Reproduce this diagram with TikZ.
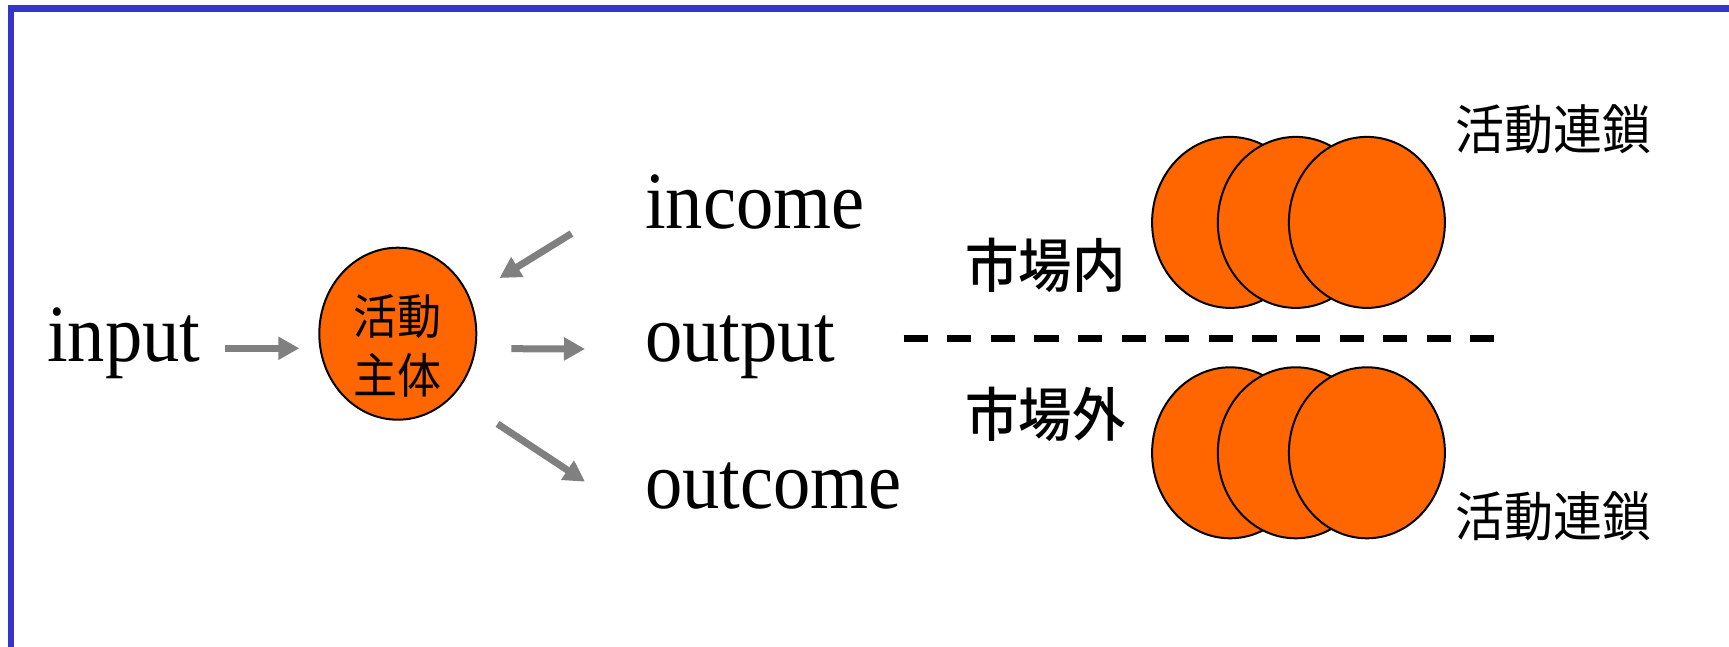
\documentclass[tikz,border=0pt]{standalone}
\usepackage{fontspec}
\setmainfont{Liberation Serif}
\newfontfamily\cjk{Noto Sans CJK JP}
\newfontfamily\cjkm{Noto Sans CJK JP Medium}
\usetikzlibrary{arrows.meta,shapes.geometric}
\definecolor{frameblue}{HTML}{3535CC}
\definecolor{orng}{HTML}{FF6600}
\definecolor{arrgray}{HTML}{808080}
\newcommand\vst[1]{\scalebox{1}[1.09]{#1}}
\begin{document}
\begin{tikzpicture}[x=1pt,y=-1pt,
  lat/.style={anchor=base west, inner sep=0pt, font=\fontsize{74.5}{80}\selectfont},
  blob/.style={ellipse, draw=black, line width=2pt, fill=orng, inner sep=0pt,
               minimum width=156pt, minimum height=171pt},
  arr/.style={draw=arrgray, line width=7pt, -{Triangle[length=21pt,width=22pt]}},
  jp/.style={inner sep=0pt, anchor=center},
  divider/.style={line width=7pt, dash pattern=on 24.3pt off 19.3pt},
]
\useasboundingbox (0,0) rectangle (1729,647);
\fill[white] (0,0) rectangle (1729,647);
\draw[frameblue, line width=6.5pt] (11,700) -- (11,8.3) -- (1780,8.3);

% left part
\node[lat] (input) at (47,361.7) {\vst{input}};
\node[blob, minimum width=157pt, minimum height=172pt] (actor) at (397.8,333.7) {};
\node[jp, font=\cjk\fontsize{44}{54}\selectfont] (actortext) at (397.7,351.8)
  {\vst{\begin{tabular}{@{}c@{}}活動\\主体\end{tabular}}};

% middle texts
\node[lat] (income) at (645,229) {\vst{income}};
\node[lat] (output) at (645,361.7) {\vst{output}};
\node[lat] (outcome) at (645,508.3) {\vst{outcome}};

% arrows
\draw[arr] ([shift={(178.3,-13.4)}]input.base west) -- ([shift={(-98.5,14.6)}]actor.center);
\draw[arr] ([shift={(-73.5,4.5)}]income.base west) -- ([shift={(101.7,-55.7)}]actor.center);
\draw[arr] ([shift={(113.5,15)}]actor.center) -- ([shift={(-60,-12.7)}]output.base west);
\draw[arr] ([shift={(99.7,90.2)}]actor.center) -- ([shift={(-60,-26.6)}]outcome.base west);

% market labels
\node[jp, font=\cjkm\fontsize{53.4}{60}\selectfont] (inside) at (1045.5,265) {\vst{市場内}};
\node[jp, font=\cjkm\fontsize{53.4}{60}\selectfont] (outside) at (1045.5,414.2) {\vst{市場外}};

% divider
\coordinate (dashL) at (903.5,338.5);
\coordinate (dashR) at (1494,338.5);
\draw[divider] (dashL) -- (dashR);

% activity chains
\foreach \i/\x in {1/1230.1,2/1295.8,3/1366.9} {
  \node[blob] (top\i) at (\x,222.4) {};
}
\foreach \i/\x in {1/1230.1,2/1295.8,3/1366.9} {
  \node[blob] (bot\i) at (\x,452.8) {};
}
\node[jp, font=\cjk\fontsize{49}{55}\selectfont] (chainA) at (1553.2,129.2) {\vst{活動連鎖}};
\node[jp, font=\cjk\fontsize{49}{55}\selectfont] (chainB) at (1553.2,516.7) {\vst{活動連鎖}};
\end{tikzpicture}
\end{document}
